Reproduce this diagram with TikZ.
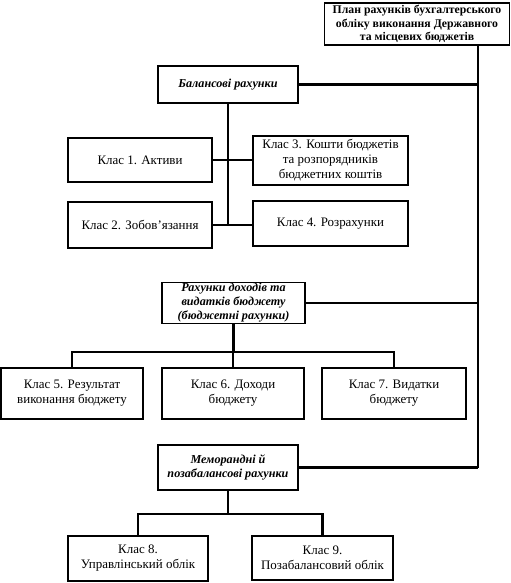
\documentclass[tikz,border=0pt]{standalone}
\usepackage{fontspec}
\setmainfont{Liberation Serif}
\begin{document}
\begin{tikzpicture}[x=1bp,y=-1bp,
  box/.style={draw,line width=1.3bp,align=center,inner sep=1bp,font=\fontsize{13}{15}\selectfont},
  headbox/.style={box,font=\bfseries\itshape\fontsize{12.2}{14}\selectfont},
  conn/.style={line width=2.6bp}]
\useasboundingbox (0,0) rectangle (511,583);
\node[box,font=\bfseries\fontsize{11.8}{13.5}\selectfont,minimum width=185bp,minimum height=42bp] (top) at (417,24) {План рахунків бухгалтерського\\обліку виконання Державного\\та місцевих бюджетів};
\node[headbox,minimum width=140bp,minimum height=37bp] (bal) at (228,84.5) {Балансові рахунки};
\node[box,minimum width=144bp,minimum height=44bp] (c1) at (140,160) {Клас 1. Активи};
\node[box,minimum width=155bp,minimum height=49bp] (c3) at (330.5,160.5) {Клас 3. Кошти бюджетів\\та розпорядників\\бюджетних коштів};
\node[box,minimum width=144bp,minimum height=46bp] (c2) at (140,225) {Клас 2. Зобов'язання};
\node[box,minimum width=155bp,minimum height=45bp] (c4) at (330.5,223.5) {Клас 4. Розрахунки};
\node[headbox,minimum width=143bp,minimum height=40bp] (bud) at (233.5,303) {Рахунки доходів та\\видатків бюджету\\(бюджетні рахунки)};
\node[box,minimum width=142bp,minimum height=51bp] (c5) at (72,393.5) {Клас 5. Результат\\виконання бюджету};
\node[box,minimum width=142bp,minimum height=51bp] (c6) at (233,393.5) {Клас 6. Доходи\\бюджету};
\node[box,minimum width=144bp,minimum height=51bp] (c7) at (394,393.5) {Клас 7. Видатки\\бюджету};
\node[headbox,minimum width=140bp,minimum height=45bp] (mem) at (228,467.5) {Меморандні й\\позабалансові рахунки};
\node[box,minimum width=140bp,minimum height=45bp] (c8) at (138,558.5) {Клас 8.\\Управлінський облік};
\node[box,minimum width=141bp,minimum height=44bp] (c9) at (322.5,558) {Клас 9.\\Позабалансовий облік};
\coordinate (trunk) at (478,468);
\coordinate (busA) at (233,352);
\coordinate (busB) at (230,514);
\draw[conn] (top.south -| trunk) -- (trunk);
\draw[conn] (bal.east) -- (bal.east -| trunk);
\draw[conn] (bud.east) -- (bud.east -| trunk);
\draw[conn] (mem.east) -- (mem.east -| trunk);
\draw[conn] (bal.south) -- (bal.south |- c2.east);
\draw[conn] (c1.east) -- (c1.east -| c3.west);
\draw[conn] (c2.east) -- (c2.east -| c4.west);
\draw[conn] (bud.south) -- (bud.south |- busA);
\draw[conn] (c5.north) -- (c5.north |- busA) -- (c7.north |- busA) -- (c7.north);
\draw[conn] (c6.north) -- (c6.north |- busA);
\draw[conn] (mem.south) -- (mem.south |- busB);
\draw[conn] (c8.north) -- (c8.north |- busB) -- (c9.north |- busB) -- (c9.north);
\end{tikzpicture}
\end{document}
